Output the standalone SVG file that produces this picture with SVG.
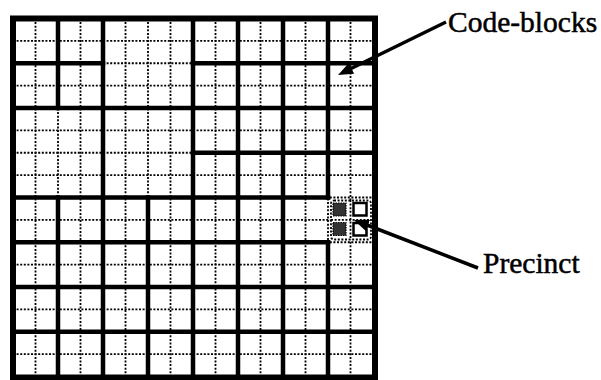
<svg xmlns="http://www.w3.org/2000/svg" width="601" height="380" viewBox="0 0 601 380">
  <style>
    .dot { stroke: #000; stroke-width: 1.8; stroke-dasharray: 2 1.6; fill: none; }
    .thick { stroke: #000; stroke-width: 4.5; fill: none; stroke-linecap: square; }
    .frame { stroke: #000; stroke-width: 6; fill: none; }
    .conn { stroke: #000; stroke-width: 3.5; fill: none; }
    .lbl { font-family: "Liberation Serif", "Times New Roman", serif; font-size: 29.5px; fill: #000; stroke: #000; stroke-width: 0.5; }
    .cb-dark { fill: #333; stroke: #000; stroke-width: 1.2; stroke-dasharray: 1.5 1; }
    .cb-open { fill: #fff; stroke: #000; stroke-width: 2.5; }
  </style>
  <defs>
    <marker id="arrow" markerUnits="userSpaceOnUse" markerWidth="16" markerHeight="12" refX="1" refY="6" orient="auto">
      <path d="M0,0 L15,6 L0,12 z" fill="#000"/>
    </marker>
  </defs>
  <rect width="601" height="380" fill="#fff"/>

  <g id="grid">
    <g id="dotted-lines">
      <path class="dot" d="M35.5,18.5V377.5 M58,18.5V377.5 M80.5,18.5V377.5 M103,18.5V377.5 M125.5,18.5V377.5 M148,18.5V377.5 M170.5,18.5V377.5 M193,18.5V377.5 M215.5,18.5V377.5 M238,18.5V377.5 M260.5,18.5V377.5 M283,18.5V377.5 M305.5,18.5V377.5 M328,18.5V377.5 M350.5,18.5V377.5"/>
      <path class="dot" d="M13,40.875H375 M13,63.25H375 M13,85.625H375 M13,108H375 M13,130.375H375 M13,152.75H375 M13,175.125H375 M13,197.5H375 M13,219.875H375 M13,242.25H375 M13,264.625H375 M13,287H375 M13,309.375H375 M13,331.75H375 M13,354.125H375"/>
    </g>
    <g id="thick-lines">
      <path class="thick" d="M58,18.5V108 M58,197.5V377.5 M103,18.5V377.5 M148,197.5V377.5 M193,18.5V377.5 M238,18.5V377.5 M283,18.5V377.5 M328,18.5V197.5 M328,242.25V377.5"/>
      <path class="thick" d="M13,63.25H103 M193,63.25H375 M13,108H375 M193,152.75H375 M13,197.5H328 M13,242.25H328 M13,287H375 M13,331.75H375"/>
    </g>
    <rect class="frame" x="13" y="18.5" width="362" height="359"/>
  </g>

  <g id="precinct">
    <rect x="330.5" y="200" width="41.5" height="40" fill="#fff"/>
    <rect class="dot" x="331" y="200.5" width="40" height="39" rx="3"/>
    <path class="dot" d="M350.5,200V240 M331,219.875H371"/>
    <rect class="cb-dark" x="333" y="203" width="13" height="13"/>
    <rect class="cb-dark" x="333" y="222.5" width="13" height="13"/>
    <rect class="cb-open" x="353.5" y="203" width="13" height="12.5"/>
    <rect class="cb-open" x="353.5" y="223" width="13" height="12.5"/>
  </g>

  <g id="connectors">
    <line class="conn" x1="446" y1="22" x2="350.6" y2="68.8" marker-end="url(#arrow)"/>
    <line class="conn" x1="478" y1="268" x2="367" y2="225" marker-end="url(#arrow)"/>
  </g>

  <g id="label-codeblocks">
    <text class="lbl" x="448" y="32">Code-blocks</text>
  </g>
  <g id="label-precinct">
    <text class="lbl" x="483" y="273">Precinct</text>
  </g>
</svg>
